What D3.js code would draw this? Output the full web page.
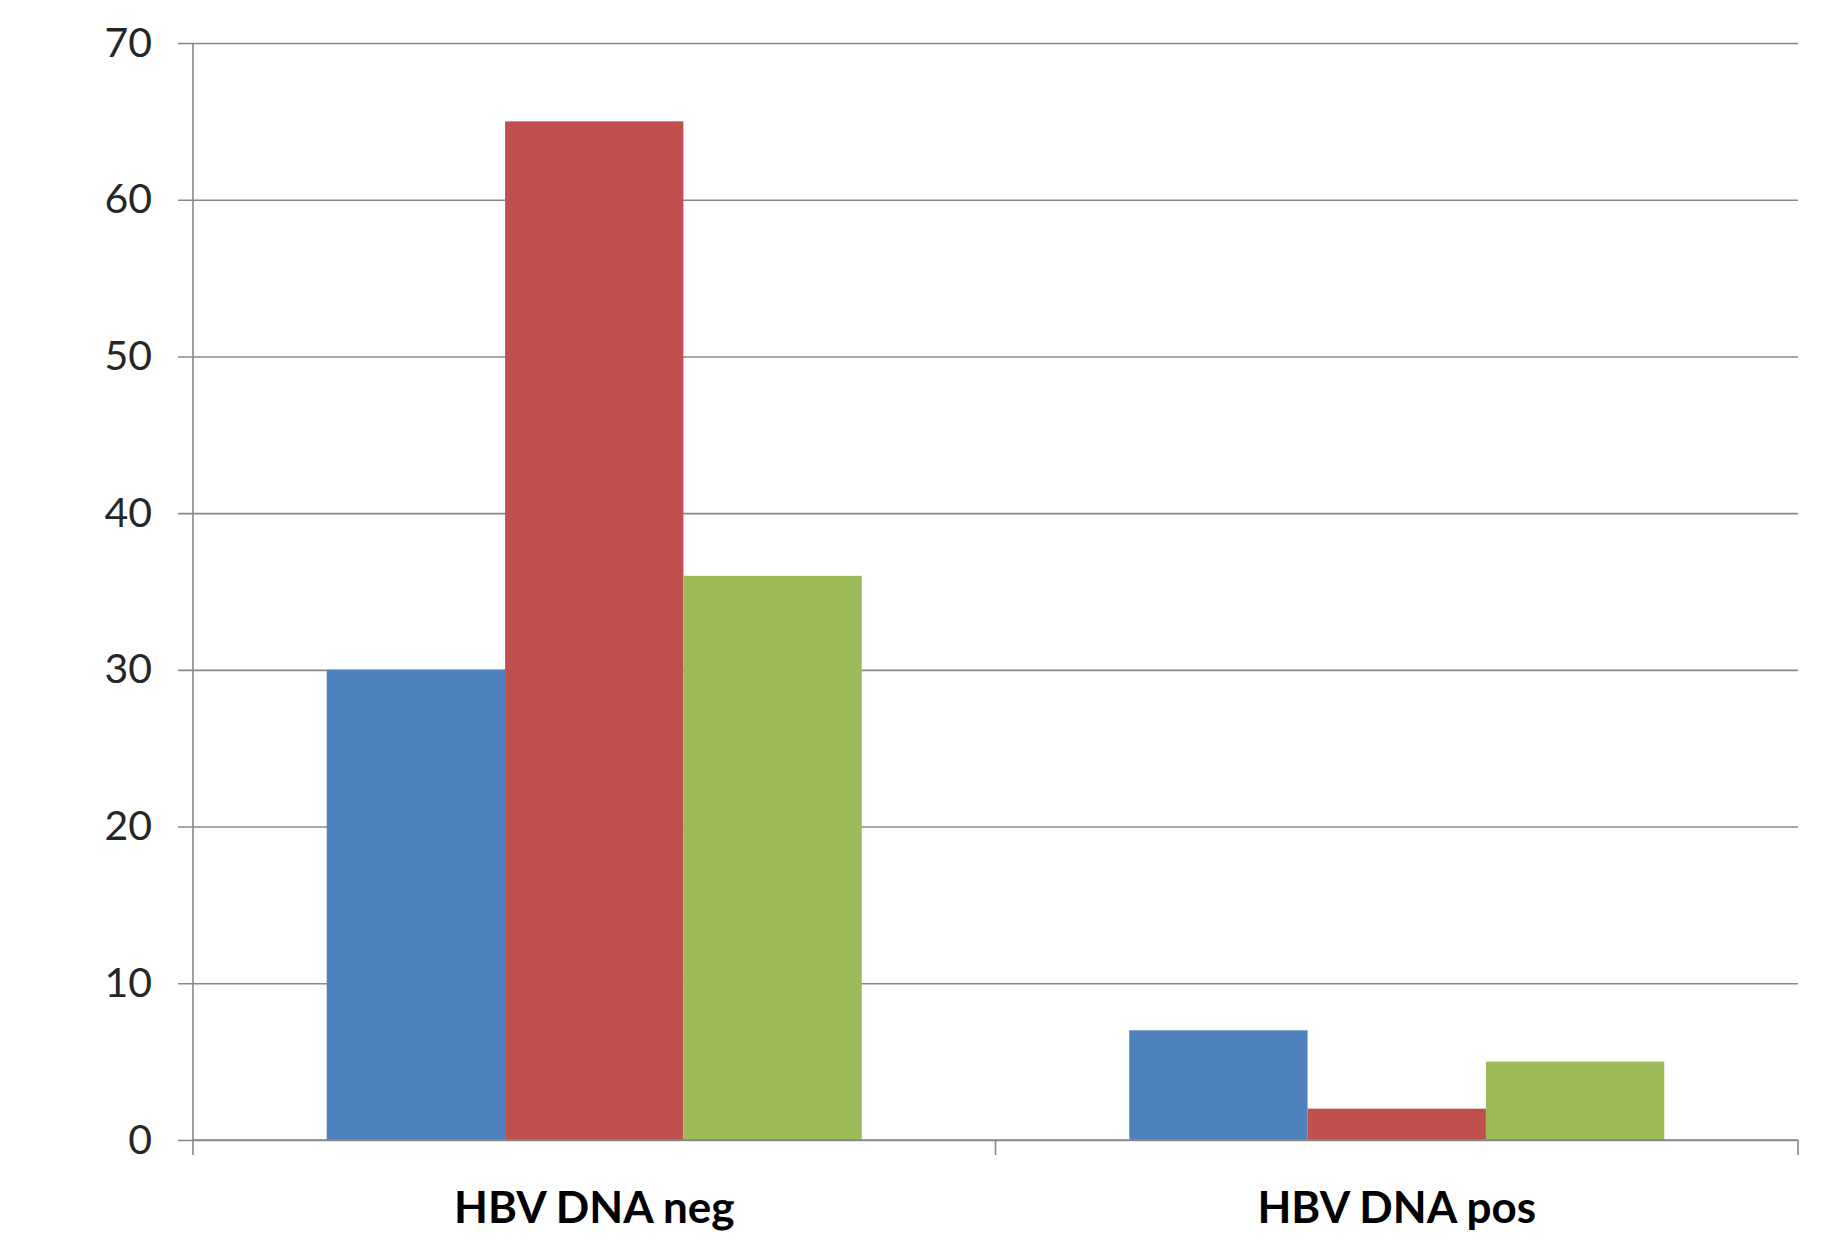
<!DOCTYPE html>
<html>
<head>
<meta charset="utf-8">
<script src="https://cdn.jsdelivr.net/npm/d3@7"></script>
<style>
  html, body { margin: 0; padding: 0; background: #ffffff; }
  svg { display: block; }
</style>
</head>
<body>
<div id="chart"></div>
<script>
// ---- data ----
const categories = ["HBV DNA neg", "HBV DNA pos"];
const seriesNames = ["Series 1", "Series 2", "Series 3"];
const series1 = [30, 7];
const series2 = [65, 2];
const series3 = [36, 5];
const seriesColors = ["#4F81BD", "#C0504D", "#9BBB59"];
const yTicks = [0, 10, 20, 30, 40, 50, 60, 70];

const W = 1826, H = 1253;
const margin = { left: 193, right: 28, top: 43, bottom: 113 };

const svg = d3.select("#chart").append("svg")
  .attr("width", W).attr("height", H);

const x0 = d3.scaleBand()
  .domain(categories)
  .range([margin.left, W - margin.right])
  .paddingInner(0).paddingOuter(0);

const x1 = d3.scaleBand()
  .domain(seriesNames)
  .range([0, x0.bandwidth()])
  .paddingInner(0).paddingOuter(0.75);

const y = d3.scaleLinear()
  .domain([0, 70])
  .range([H - margin.bottom, margin.top]);

const gridColor = "#878787";

// gridlines + y ticks
const yAxis = d3.axisLeft(y)
  .tickValues(yTicks)
  .tickSize(-(W - margin.right - margin.left + 15))
  .tickPadding(26)
  .tickFormat(d3.format("d"));

const gy = svg.append("g")
  .attr("transform", `translate(${margin.left - 15},0)`)
  .call(yAxis);
gy.select(".domain").remove();
gy.selectAll(".tick line")
  .attr("stroke", gridColor).attr("stroke-width", 1.6);
gy.selectAll(".tick text")
  .attr("x", -(41 - 15))
  .attr("fill", "#262626")
  .style("font-family", "Lato, 'Open Sans', sans-serif")
  .style("font-size", "41px");

// vertical axis line
svg.append("line")
  .attr("x1", margin.left).attr("x2", margin.left)
  .attr("y1", y(70)).attr("y2", y(0))
  .attr("stroke", gridColor).attr("stroke-width", 1.6);

// bars
const rows = categories.map((c, i) => ({
  cat: c,
  vals: [series1[i], series2[i], series3[i]]
}));

const groups = svg.append("g").selectAll("g")
  .data(rows).join("g")
  .attr("transform", d => `translate(${x0(d.cat)},0)`);

groups.selectAll("rect")
  .data(d => d.vals.map((v, j) => ({ name: seriesNames[j], v, color: seriesColors[j] })))
  .join("rect")
  .attr("x", d => x1(d.name))
  .attr("width", x1.bandwidth())
  .attr("y", d => y(d.v))
  .attr("height", d => y(0) - y(d.v))
  .attr("fill", d => d.color);

// x axis
const xAxis = d3.axisBottom(x0).tickSize(0).tickPadding(0);
const gx = svg.append("g")
  .attr("transform", `translate(0,${y(0)})`)
  .call(xAxis);
gx.select(".domain").attr("stroke", gridColor).attr("stroke-width", 1.6)
  .attr("d", `M${margin.left},0H${W - margin.right}`);
gx.selectAll(".tick line").remove();
gx.selectAll(".tick text")
  .attr("y", 83)
  .attr("dy", "0")
  .attr("fill", "#000")
  .style("font-family", "Lato, 'Open Sans', sans-serif")
  .style("font-weight", "bold")
  .style("font-size", "44px");

// category boundary ticks
const boundaries = [x0.range()[0]].concat(categories.map(c => x0(c) + x0.bandwidth()));
gx.selectAll("line.bt")
  .data(boundaries).join("line")
  .attr("class", "bt")
  .attr("x1", d => d).attr("x2", d => d)
  .attr("y1", 0).attr("y2", 15)
  .attr("stroke", gridColor).attr("stroke-width", 1.6);
</script>
</body>
</html>
